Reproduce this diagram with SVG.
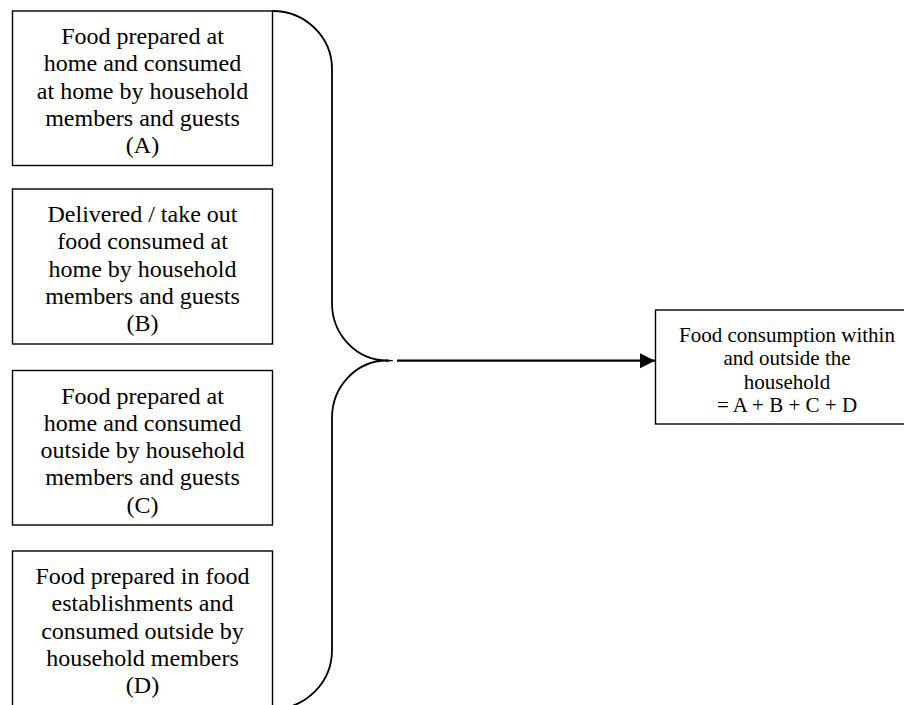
<svg xmlns="http://www.w3.org/2000/svg" width="904" height="705" viewBox="0 0 904 705">
<style>
.box{fill:#fff;stroke:#000;stroke-width:1.4}
.t{font-family:"Liberation Serif","Times New Roman",serif;font-size:24px;fill:#000;text-anchor:middle}
.tr{font-family:"Liberation Serif","Times New Roman",serif;font-size:21px;fill:#000;text-anchor:middle}
.brace{fill:none;stroke:#000;stroke-width:1.8}
.conn{stroke:#000;stroke-width:2.2;fill:none}
</style>
<defs>
<marker id="ah" markerUnits="userSpaceOnUse" markerWidth="16" markerHeight="16" refX="15" refY="7.5" orient="auto">
<path d="M0,0 L15,7.5 L0,15 Z" fill="#000"/>
</marker>
</defs>
<rect width="904" height="705" fill="#fff"/>
<g id="nodeA">
<rect class="box" x="12.5" y="11" width="260" height="154.5"/>
<text class="t" x="142.5" y="44">Food prepared at</text>
<text class="t" x="142.5" y="71.3">home and consumed</text>
<text class="t" x="142.5" y="98.6">at home by household</text>
<text class="t" x="142.5" y="125.9">members and guests</text>
<text class="t" x="142.5" y="153.2">(A)</text>
</g>
<g id="nodeB">
<rect class="box" x="12.5" y="189" width="260" height="155"/>
<text class="t" x="142.5" y="222">Delivered / take out</text>
<text class="t" x="142.5" y="249.3">food consumed at</text>
<text class="t" x="142.5" y="276.6">home by household</text>
<text class="t" x="142.5" y="303.9">members and guests</text>
<text class="t" x="142.5" y="331.2">(B)</text>
</g>
<g id="nodeC">
<rect class="box" x="12.5" y="370.5" width="260" height="154.5"/>
<text class="t" x="142.5" y="403.5">Food prepared at</text>
<text class="t" x="142.5" y="430.8">home and consumed</text>
<text class="t" x="142.5" y="458.1">outside by household</text>
<text class="t" x="142.5" y="485.4">members and guests</text>
<text class="t" x="142.5" y="512.7">(C)</text>
</g>
<g id="nodeD">
<rect class="box" x="12.5" y="551" width="260" height="170"/>
<text class="t" x="142.5" y="584">Food prepared in food</text>
<text class="t" x="142.5" y="611.3">establishments and</text>
<text class="t" x="142.5" y="638.6">consumed outside by</text>
<text class="t" x="142.5" y="665.9">household members</text>
<text class="t" x="142.5" y="693.2">(D)</text>
</g>
<g id="nodeTotal">
<rect class="box" x="655.5" y="310" width="264" height="114"/>
<text class="tr" x="787" y="342">Food consumption within</text>
<text class="tr" x="787" y="365.4">and outside the</text>
<text class="tr" x="787" y="388.8">household</text>
<text class="tr" x="787" y="412.2">= A + B + C + D</text>
</g>
<g id="connectors">
<path class="brace" d="M272.5,11 A59.5,58 0 0 1 332,69 V303 A55,57.5 0 0 0 387,360.5 A55,57.5 0 0 0 332,418 V650 A59,59 0 0 1 273,709"/>
<path d="M386,359.2 L393,360.2 L393,361 L386,362 Z" fill="#000"/>
<line class="conn" x1="397" y1="360.7" x2="655" y2="360.7" marker-end="url(#ah)"/>
</g>
</svg>
